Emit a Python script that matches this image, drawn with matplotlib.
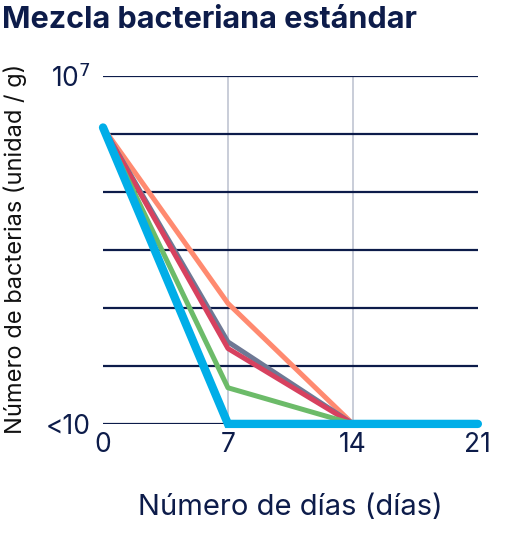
import matplotlib.pyplot as plt

plt.rcParams['font.family'] = ['Inter', 'DejaVu Sans']

navy = '#0d1c4a'

# datos (dias, bacterias por g)
dias = [0, 7, 14, 21]
serie_salmon = [1.3e6, 1200, 10]
serie_gris = [1.3e6, 260, 10]
serie_roja = [1.3e6, 200, 10]
serie_verde = [1.3e6, 42, 10]
serie_azul = [1.3e6, 10, 10, 10]

niveles = [1e1, 1e2, 1e3, 1e4, 1e5, 1e6, 1e7]
etiquetas_y = ['<10', '', '', '', '', '', '10$^7$']

fig = plt.figure(figsize=(5.1, 5.4), dpi=100)
ax = fig.add_axes([0.202, 0.215, 0.735, 0.644])

ax.set_yscale('log')
ax.set_xlim(0, 21)
ax.set_ylim(10, 1e7)

# lineas de referencia
for v in niveles:
    ax.axhline(v, color=navy, lw=1.6, zorder=1)
for d in [7, 14]:
    ax.axvline(d, color='#c5c9d6', lw=1.3, zorder=0)

ax.plot(dias[:3], serie_salmon, color='#ff8a70', lw=3.6, zorder=3, solid_capstyle='round')
ax.plot(dias[:3], serie_gris, color='#6e7894', lw=3.6, zorder=4, solid_capstyle='round')
ax.plot(dias[:3], serie_roja, color='#d7415f', lw=3.6, zorder=5, solid_capstyle='round')
ax.plot(dias[:3], serie_verde, color='#6cbb69', lw=3.6, zorder=6, solid_capstyle='round')
ax.plot(dias, serie_azul, color='#00aee8', lw=6, zorder=7, solid_capstyle='round',
        solid_joinstyle='miter', clip_on=False)

ax.set_xticks(dias)
ax.set_xticklabels(['0', '7', '14', '21'])
ax.set_yticks(niveles)
ax.set_yticklabels(etiquetas_y)
ax.minorticks_off()
ax.tick_params(length=0, labelsize=19, colors=navy)
ax.tick_params(axis='x', pad=6)
ax.tick_params(axis='y', pad=9)
for s in ax.spines.values():
    s.set_visible(False)

ax.set_xlabel('Número de días (días)', fontsize=21, color=navy, labelpad=26)
fig.text(0.03, 0.54, 'Número de bacterias (unidad / g)', rotation=90, fontsize=17,
         color='#111111', ha='center', va='center')
fig.text(0.004, 0.988, 'Mezcla bacteriana estándar', fontsize=22, fontweight='bold',
         color=navy, ha='left', va='top')

fig.savefig('out.png', dpi=100)
